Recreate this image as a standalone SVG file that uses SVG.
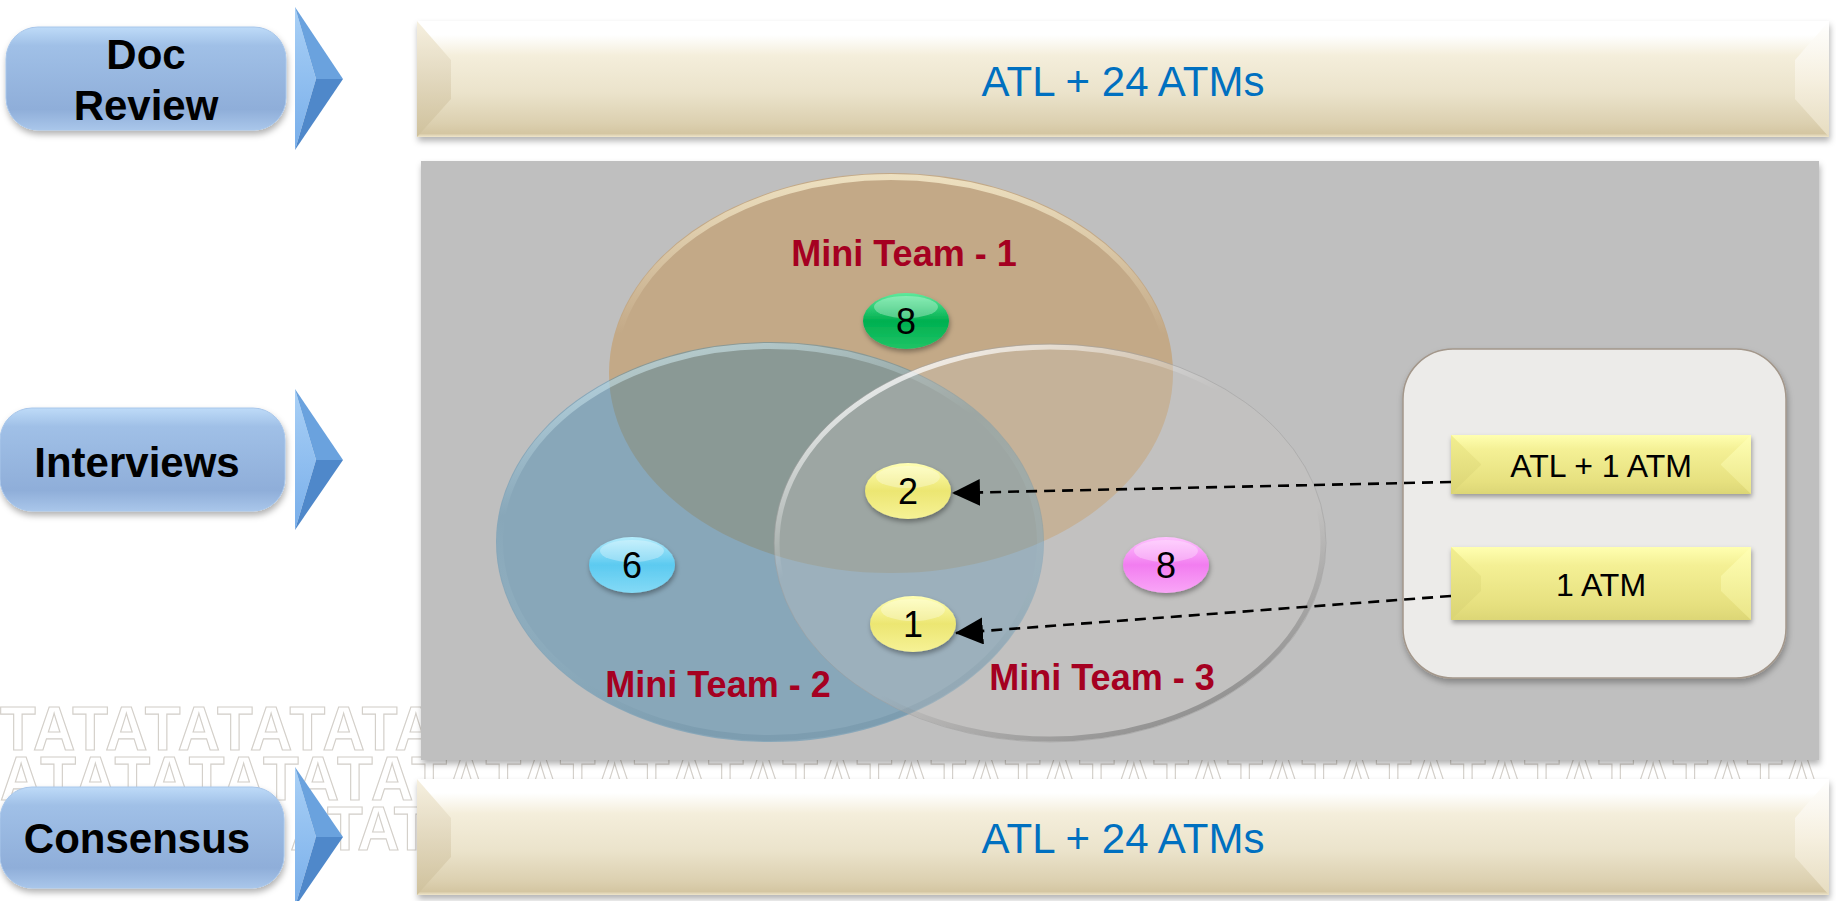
<svg xmlns="http://www.w3.org/2000/svg" width="1836" height="901" viewBox="0 0 1836 901">
<defs>
<style>
.btn text{font-family:"Liberation Sans",Arial,sans-serif;font-weight:bold;font-size:42px;fill:#000;text-anchor:middle}
.bar text{font-family:"Liberation Sans",Arial,sans-serif;font-size:42px;fill:#0070C0;text-anchor:middle}
.team{font-family:"Liberation Sans",Arial,sans-serif;font-weight:bold;font-size:36px;fill:#A50021;text-anchor:middle}
.num{font-family:"Liberation Sans",Arial,sans-serif;font-size:36px;fill:#000;text-anchor:middle}
.ybox text{font-family:"Liberation Sans",Arial,sans-serif;font-size:32px;fill:#000;text-anchor:middle}
.wm{font-family:"Liberation Sans",Arial,sans-serif;font-weight:bold;font-size:63px;fill:#fff;stroke:#d3cfc9;stroke-width:1.2}
.conn{fill:none;stroke:#000;stroke-width:2.6;stroke-dasharray:11 7}
.gloss{fill:#fff;opacity:0.3}
</style>
<filter id="sh" x="-5%" y="-10%" width="110%" height="130%"><feDropShadow dx="1" dy="4" stdDeviation="3" flood-color="#000" flood-opacity="0.3"/></filter>
<filter id="shs" x="-20%" y="-30%" width="140%" height="170%"><feDropShadow dx="1" dy="3" stdDeviation="2.5" flood-color="#000" flood-opacity="0.35"/></filter>
<linearGradient id="gBtn" x1="0" y1="0" x2="0" y2="1">
<stop offset="0" stop-color="#BEDBF8"/><stop offset="0.18" stop-color="#A0C0E7"/><stop offset="0.8" stop-color="#8FAED9"/><stop offset="1" stop-color="#A9C6EA"/>
</linearGradient>
<linearGradient id="gChevL" x1="0" y1="0" x2="0" y2="1"><stop offset="0" stop-color="#A9D0F6"/><stop offset="1" stop-color="#78AEEA"/></linearGradient>
<linearGradient id="gBeige" x1="0" y1="0" x2="0" y2="1">
<stop offset="0" stop-color="#FFFFFF"/><stop offset="0.12" stop-color="#FFFFFF"/><stop offset="0.3" stop-color="#F4EEDB"/><stop offset="0.62" stop-color="#EBE3CB"/><stop offset="0.88" stop-color="#DCD0B0"/><stop offset="0.97" stop-color="#D4C6A2"/><stop offset="1" stop-color="#EFE6CC"/>
</linearGradient>
<linearGradient id="gBevL" x1="0" y1="0" x2="0" y2="1"><stop offset="0" stop-color="#F6F0E0"/><stop offset="0.5" stop-color="#E2D8BE"/><stop offset="1" stop-color="#CFC19C"/></linearGradient>
<linearGradient id="gBevR" x1="0" y1="0" x2="0" y2="1"><stop offset="0" stop-color="#FFFFFF"/><stop offset="0.5" stop-color="#F6F0E0"/><stop offset="1" stop-color="#E6DCC0"/></linearGradient>
<linearGradient id="gYel" x1="0" y1="0" x2="0" y2="1"><stop offset="0" stop-color="#FFFFB0"/><stop offset="0.25" stop-color="#F4F095"/><stop offset="0.8" stop-color="#E6E07F"/><stop offset="1" stop-color="#DCD676"/></linearGradient>
<linearGradient id="gYelBL" x1="0" y1="0" x2="0" y2="1"><stop offset="0" stop-color="#F2EE90"/><stop offset="1" stop-color="#DAD474"/></linearGradient>
<linearGradient id="gYelBR" x1="0" y1="0" x2="0" y2="1"><stop offset="0" stop-color="#FFFFB4"/><stop offset="1" stop-color="#EAE588"/></linearGradient>
<linearGradient id="rimTan" x1="0" y1="0" x2="0" y2="1"><stop offset="0" stop-color="#F2E6C6" stop-opacity="0.9"/><stop offset="0.4" stop-color="#F2E6C6" stop-opacity="0"/></linearGradient>
<linearGradient id="rimBlue" x1="0" y1="0" x2="0.3" y2="1"><stop offset="0" stop-color="#D2ECF2" stop-opacity="0.8"/><stop offset="0.4" stop-color="#D2ECF2" stop-opacity="0"/><stop offset="1" stop-color="#6C8EA2" stop-opacity="0.4"/></linearGradient>
<linearGradient id="rimGray" x1="0.2" y1="0" x2="0.8" y2="1"><stop offset="0" stop-color="#FFFFFF" stop-opacity="0.9"/><stop offset="0.35" stop-color="#FFFFFF" stop-opacity="0"/><stop offset="0.65" stop-color="#707070" stop-opacity="0"/><stop offset="1" stop-color="#707070" stop-opacity="0.7"/></linearGradient>
<linearGradient id="pGreen" x1="0" y1="0" x2="0" y2="1"><stop offset="0" stop-color="#5EEA9C"/><stop offset="0.5" stop-color="#00B050"/><stop offset="1" stop-color="#1FC466"/></linearGradient>
<linearGradient id="pYel" x1="0" y1="0" x2="0" y2="1"><stop offset="0" stop-color="#FFFFB4"/><stop offset="0.5" stop-color="#ECE672"/><stop offset="1" stop-color="#F6F296"/></linearGradient>
<linearGradient id="pBlue" x1="0" y1="0" x2="0" y2="1"><stop offset="0" stop-color="#B4ECFC"/><stop offset="0.5" stop-color="#5CCAF0"/><stop offset="1" stop-color="#84DAF6"/></linearGradient>
<linearGradient id="pPink" x1="0" y1="0" x2="0" y2="1"><stop offset="0" stop-color="#FFC2FF"/><stop offset="0.5" stop-color="#F27DF0"/><stop offset="1" stop-color="#F9A6F7"/></linearGradient>
<marker id="arr" markerUnits="userSpaceOnUse" markerWidth="28" markerHeight="28" viewBox="0 0 28 28" refX="27" refY="13.5" orient="auto"><path d="M0,0 L28,13.5 L0,27 Z" fill="#000"/></marker>
</defs>

<rect width="1836" height="901" fill="#FFFFFF"/>

<g id="watermark">
<text class="wm" transform="scale(0.93,1)"><tspan x="0" y="750" textLength="470" lengthAdjust="spacing">TATATATATATA</tspan><tspan x="0" y="800" textLength="1960" lengthAdjust="spacing">ATATATATATATATATATATATATATATATATATATATATATATATATA</tspan><tspan x="312" y="850" textLength="150" lengthAdjust="spacing">ATAT</tspan></text>
</g>

<g id="btn-doc-review" class="btn">
<rect x="6" y="27" width="280" height="103" rx="32" fill="url(#gBtn)" stroke="#A8C6EA" stroke-width="1" filter="url(#sh)"/>
<text x="146" y="69">Doc</text>
<text x="146" y="120">Review</text>
</g>
<g id="chev-doc">
<polygon points="295,7 316,79 295,150" fill="url(#gChevL)"/>
<polygon points="295,7 343,79 316,79" fill="#6AA2DE"/>
<polygon points="316,79 343,79 295,150" fill="#4F88CA"/>
</g>

<g id="btn-interviews" class="btn">
<rect x="0" y="408" width="285" height="103" rx="32" fill="url(#gBtn)" stroke="#A8C6EA" stroke-width="1" filter="url(#sh)"/>
<text x="137" y="477">Interviews</text>
</g>
<g id="chev-interviews">
<polygon points="295,389 316,460 295,530" fill="url(#gChevL)"/>
<polygon points="295,389 343,460 316,460" fill="#6AA2DE"/>
<polygon points="316,460 343,460 295,530" fill="#4F88CA"/>
</g>

<g id="btn-consensus" class="btn">
<rect x="0" y="787" width="284" height="101" rx="32" fill="url(#gBtn)" stroke="#A8C6EA" stroke-width="1" filter="url(#sh)"/>
<text x="137" y="853">Consensus</text>
</g>
<g id="chev-consensus">
<polygon points="295,767 316,837 295,907" fill="url(#gChevL)"/>
<polygon points="295,767 343,837 316,837" fill="#6AA2DE"/>
<polygon points="316,837 343,837 295,907" fill="#4F88CA"/>
</g>

<g id="bar-top" class="bar">
<rect x="417" y="21" width="1412" height="116" fill="url(#gBeige)" filter="url(#sh)"/>
<polygon points="417,21 451,60 451,99 417,137" fill="url(#gBevL)"/>
<polygon points="1829,21 1795,60 1795,99 1829,137" fill="url(#gBevR)"/>
<text x="1123" y="96">ATL + 24 ATMs</text>
</g>

<g id="bar-bottom" class="bar">
<rect x="417" y="779" width="1412" height="116" fill="url(#gBeige)" filter="url(#sh)"/>
<polygon points="417,779 451,818 451,857 417,895" fill="url(#gBevL)"/>
<polygon points="1829,779 1795,818 1795,857 1829,895" fill="url(#gBevR)"/>
<text x="1123" y="853">ATL + 24 ATMs</text>
</g>

<g id="panel">
<rect x="421" y="161" width="1398" height="599" fill="#BFBFBF" filter="url(#sh)"/>
</g>

<g id="venn">
<g id="team1">
<ellipse cx="891" cy="373" rx="282" ry="200" fill="#C3A987"/>
<ellipse cx="891" cy="373" rx="278" ry="196" fill="none" stroke="url(#rimTan)" stroke-width="6"/>
</g>
<g id="team2">
<ellipse cx="770" cy="542" rx="274" ry="200" fill="rgb(38,124,176)" fill-opacity="0.36"/>
<ellipse cx="770" cy="542" rx="270" ry="196" fill="none" stroke="url(#rimBlue)" stroke-width="6"/>
</g>
<g id="team3">
<ellipse cx="1050" cy="543" rx="276" ry="199" fill="#C9C7C2" fill-opacity="0.3"/>
<ellipse cx="1050" cy="543" rx="273" ry="196" fill="none" stroke="url(#rimGray)" stroke-width="5"/>
<ellipse cx="1050" cy="543" rx="276" ry="199" fill="none" stroke="#9C9C9C" stroke-opacity="0.5" stroke-width="1"/>
</g>
<text class="team" x="904" y="266">Mini Team - 1</text>
<text class="team" x="718" y="697">Mini Team - 2</text>
<text class="team" x="1102" y="690">Mini Team - 3</text>
</g>

<g id="pill-green-8">
<ellipse cx="906" cy="321" rx="43" ry="28" fill="url(#pGreen)" filter="url(#shs)"/>
<ellipse class="gloss" cx="906" cy="307" rx="32" ry="11"/>
<text class="num" x="906" y="334">8</text>
</g>
<g id="pill-yellow-2">
<ellipse cx="908" cy="491" rx="43" ry="28" fill="url(#pYel)" filter="url(#shs)"/>
<ellipse class="gloss" cx="908" cy="477" rx="32" ry="11"/>
<text class="num" x="908" y="504">2</text>
</g>
<g id="pill-yellow-1">
<ellipse cx="913" cy="624" rx="43" ry="28" fill="url(#pYel)" filter="url(#shs)"/>
<ellipse class="gloss" cx="913" cy="610" rx="32" ry="11"/>
<text class="num" x="913" y="637">1</text>
</g>
<g id="pill-blue-6">
<ellipse cx="632" cy="565" rx="43" ry="28" fill="url(#pBlue)" filter="url(#shs)"/>
<ellipse class="gloss" cx="632" cy="551" rx="32" ry="11"/>
<text class="num" x="632" y="578">6</text>
</g>
<g id="pill-pink-8">
<ellipse cx="1166" cy="565" rx="43" ry="28" fill="url(#pPink)" filter="url(#shs)"/>
<ellipse class="gloss" cx="1166" cy="551" rx="32" ry="11"/>
<text class="num" x="1166" y="578">8</text>
</g>

<g id="side-box">
<rect x="1403" y="349" width="383" height="329" rx="50" fill="#ECEBE9" stroke="#A3978B" stroke-width="1.5" filter="url(#sh)"/>
</g>

<g id="box-atl-1-atm" class="ybox">
<rect x="1451" y="435" width="300" height="59" fill="url(#gYel)" filter="url(#shs)"/>
<polygon points="1451,435 1481,464 1481,465 1451,494" fill="url(#gYelBL)"/>
<polygon points="1751,435 1721,464 1721,465 1751,494" fill="url(#gYelBR)"/>
<text x="1601" y="477">ATL + 1 ATM</text>
</g>
<g id="box-1-atm" class="ybox">
<rect x="1451" y="547" width="300" height="73" fill="url(#gYel)" filter="url(#shs)"/>
<polygon points="1451,547 1481,576 1481,591 1451,620" fill="url(#gYelBL)"/>
<polygon points="1751,547 1721,576 1721,591 1751,620" fill="url(#gYelBR)"/>
<text x="1601" y="596">1 ATM</text>
</g>

<g id="connectors">
<path class="conn" d="M1451,482 L953,493" marker-end="url(#arr)"/>
<path class="conn" d="M1451,596 L956,633" marker-end="url(#arr)"/>
</g>
</svg>
